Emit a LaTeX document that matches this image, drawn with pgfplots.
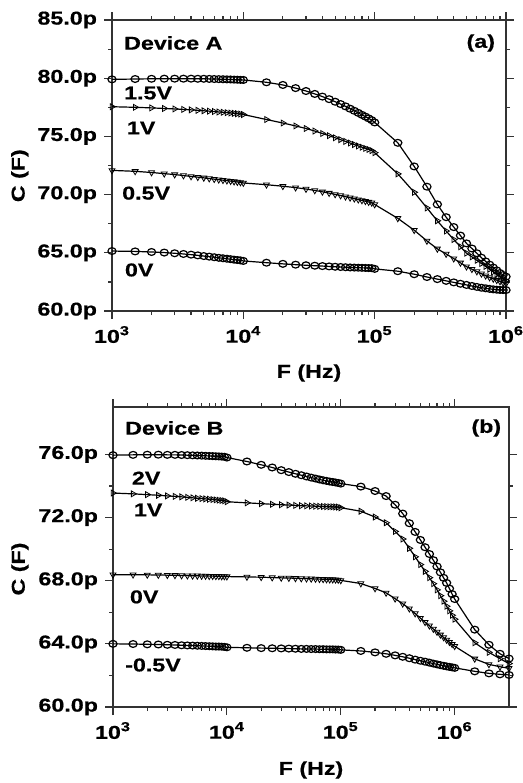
\documentclass[border=0pt]{standalone}
\usepackage{fontspec}
\setmainfont{Liberation Sans}[FakeStretch=1.25, BoldFeatures={FakeBold=0.6}]
\usepackage{pgfplots}
\usepackage{pgfplotstable}
\pgfplotsset{compat=1.18}

\pgfplotstableread{
f a15 a10 a05 a00
1000 79.90 77.55 72.08 65.15
1500 79.93 77.50 72.00 65.12
2000 79.95 77.45 71.90 65.07
2500 79.96 77.40 71.80 65.02
3000 79.96 77.36 71.72 64.96
3500 79.96 77.32 71.64 64.90
4000 79.96 77.28 71.56 64.84
4500 79.95 77.24 71.50 64.78
5000 79.95 77.20 71.44 64.72
5500 79.94 77.17 71.38 64.67
6000 79.93 77.14 71.33 64.62
6500 79.92 77.10 71.28 64.57
7000 79.91 77.07 71.24 64.53
7500 79.90 77.04 71.20 64.49
8000 79.89 77.01 71.16 64.45
8500 79.88 76.98 71.12 64.41
9000 79.87 76.95 71.08 64.38
9500 79.86 76.92 71.05 64.35
10000 79.85 76.88 71.00 64.30
15000 79.65 76.45 70.85 64.15
20000 79.42 76.15 70.72 64.05
25000 79.15 75.90 70.60 63.98
30000 78.90 75.68 70.48 63.93
35000 78.65 75.46 70.36 63.89
40000 78.42 75.25 70.24 63.86
45000 78.20 75.06 70.13 63.83
50000 77.98 74.88 70.02 63.80
55000 77.78 74.72 69.92 63.78
60000 77.58 74.57 69.82 63.76
65000 77.38 74.43 69.73 63.74
70000 77.20 74.30 69.65 63.73
75000 77.02 74.18 69.57 63.72
80000 76.85 74.07 69.50 63.71
85000 76.70 73.97 69.43 63.70
90000 76.55 73.88 69.36 63.69
95000 76.40 73.78 69.30 63.68
100000 76.20 73.60 69.15 63.62
150000 74.45 71.78 67.96 63.42
200000 72.42 70.20 66.94 63.16
250000 70.68 68.85 66.02 62.92
300000 69.16 67.75 65.34 62.74
350000 68.06 66.87 64.90 62.59
400000 67.21 66.14 64.50 62.46
450000 66.48 65.52 64.14 62.34
500000 65.81 64.97 63.81 62.24
550000 65.37 64.65 63.59 62.15
600000 64.96 64.35 63.39 62.07
650000 64.58 64.08 63.20 62.00
700000 64.26 63.83 63.03 61.95
750000 63.98 63.59 62.88 61.90
800000 63.73 63.36 62.76 61.86
850000 63.49 63.15 62.65 61.83
900000 63.26 62.95 62.54 61.81
950000 63.09 62.76 62.43 61.80
1000000 62.95 62.60 62.35 61.80
}\tabA

\pgfplotstableread{
f b20 b10 b00 bm05
1000 75.95 73.55 68.38 64.00
1500 75.97 73.50 68.38 63.99
2000 75.98 73.45 68.37 63.97
2500 75.98 73.41 68.36 63.96
3000 75.97 73.37 68.35 63.94
3500 75.97 73.34 68.34 63.93
4000 75.96 73.31 68.33 63.91
4500 75.95 73.28 68.32 63.90
5000 75.94 73.25 68.31 63.89
5500 75.93 73.22 68.31 63.88
6000 75.92 73.20 68.30 63.87
6500 75.91 73.18 68.30 63.86
7000 75.90 73.16 68.29 63.85
7500 75.89 73.14 68.29 63.84
8000 75.88 73.12 68.28 63.83
8500 75.87 73.10 68.28 63.83
9000 75.86 73.08 68.27 63.82
9500 75.85 73.06 68.27 63.81
10000 75.80 73.00 68.26 63.78
15000 75.55 72.93 68.24 63.75
20000 75.34 72.88 68.22 63.73
25000 75.17 72.84 68.20 63.72
30000 75.00 72.81 68.18 63.71
35000 74.88 72.79 68.17 63.70
40000 74.77 72.77 68.15 63.69
45000 74.68 72.75 68.14 63.68
50000 74.60 72.74 68.13 63.68
55000 74.53 72.73 68.12 63.67
60000 74.47 72.72 68.11 63.67
65000 74.41 72.71 68.10 63.66
70000 74.36 72.70 68.09 63.66
75000 74.32 72.69 68.08 63.65
80000 74.28 72.68 68.07 63.65
85000 74.25 72.68 68.07 63.65
90000 74.22 72.67 68.06 63.64
95000 74.19 72.66 68.05 63.64
100000 74.15 72.62 68.02 63.62
150000 73.96 72.40 67.82 63.55
200000 73.68 72.03 67.51 63.46
250000 73.36 71.67 67.23 63.37
300000 72.81 71.12 66.86 63.27
350000 72.25 70.64 66.54 63.18
400000 71.64 70.05 66.23 63.09
450000 71.09 69.51 65.92 63.00
500000 70.58 69.02 65.63 62.93
550000 70.12 68.59 65.37 62.87
600000 69.69 68.19 65.15 62.81
650000 69.30 67.81 64.94 62.75
700000 68.90 67.42 64.75 62.70
750000 68.53 67.05 64.57 62.65
800000 68.18 66.70 64.41 62.61
850000 67.86 66.38 64.25 62.57
900000 67.50 66.09 64.11 62.54
950000 67.15 65.81 63.98 62.51
1000000 66.84 65.56 63.85 62.48
1500000 64.90 64.07 63.05 62.26
2000000 63.94 63.46 62.70 62.13
2500000 63.37 63.06 62.55 62.07
3000000 63.07 62.75 62.45 62.03
}\tabB

\newcommand{\lblfont}{\fontsize{9.3}{11}\selectfont\bfseries}

\pgfplotsset{
  myax/.style={
    scale only axis,
    axis line style={black!80, line width=0.8pt},
    tick align=outside, major tick length=4pt, minor tick length=2pt,
    every tick/.style={black!80, line width=0.6pt},
    label style={font=\lblfont},
    tick label style={font=\lblfont},
    yticklabel style={font=\lblfont},
    xticklabel style={font=\lblfont},
    minor y tick num=1,
    clip=false,
    ylabel={C (F)}, xlabel={F (Hz)},
  },
  mk/.style={only marks, mark size=1.7pt, mark options={solid, xscale=1.2, draw=black, line width=0.6pt, fill=none}},
  fit/.style={no marks, black, line width=0.6pt},
}

\begin{document}
\begin{tikzpicture}
\useasboundingbox (0,0) rectangle (261.5pt,-391.5pt);

\begin{axis}[xmode=log, myax,
  at={(56pt,-10pt)}, anchor=north west,
  width=197pt, height=145.5pt,
  xmin=1e3, xmax=1e6, ymin=60, ymax=85,
  xtick={1e3,1e4,1e5,1e6},
  xticklabels={10\textsuperscript{3},10\textsuperscript{4},10\textsuperscript{5},10\textsuperscript{6}},
  ytick={60,65,70,75,80,85},
  yticklabels={60.0p,65.0p,70.0p,75.0p,80.0p,85.0p},
  ylabel style={at={(axis description cs:-0.234,0.465)}, anchor=center},
  xlabel style={at={(axis description cs:0.5,-0.213)}, anchor=center},
]
\addplot[mk, mark=o] table[x=f,y=a15]{\tabA};
\addplot[mk, mark=triangle, mark options={rotate=-90}] table[x=f,y=a10]{\tabA};
\addplot[mk, mark=triangle, mark options={rotate=180}] table[x=f,y=a05]{\tabA};
\addplot[mk, mark=o] table[x=f,y=a00]{\tabA};
\addplot[fit] table[x=f,y=a15]{\tabA};
\addplot[fit] table[x=f,y=a10]{\tabA};
\addplot[fit] table[x=f,y=a05]{\tabA};
\addplot[fit] table[x=f,y=a00]{\tabA};
\node[anchor=west, font=\lblfont] at (rel axis cs:0.013,0.921) {Device A};
\node[anchor=east, font=\lblfont] at (rel axis cs:0.99,0.921) {(a)};
\node[anchor=west, font=\lblfont] at (rel axis cs:0.013,0.749) {1.5V};
\node[anchor=west, font=\lblfont] at (rel axis cs:0.02,0.629) {1V};
\node[anchor=west, font=\lblfont] at (rel axis cs:0.008,0.405) {0.5V};
\node[anchor=west, font=\lblfont] at (rel axis cs:0.015,0.141) {0V};
\end{axis}

\begin{axis}[xmode=log, myax,
  at={(56.5pt,-203.5pt)}, anchor=north west,
  width=198pt, height=150pt,
  xmin=1e3, xmax=3e6, ymin=60, ymax=79,
  xtick={1e3,1e4,1e5,1e6},
  xticklabels={10\textsuperscript{3},10\textsuperscript{4},10\textsuperscript{5},10\textsuperscript{6}},
  ytick={60,64,68,72,76},
  yticklabels={60.0p,64.0p,68.0p,72.0p,76.0p},
  ylabel style={at={(axis description cs:-0.235,0.46)}, anchor=center},
  xlabel style={at={(axis description cs:0.5,-0.21)}, anchor=center},
]
\addplot[mk, mark=o] table[x=f,y=b20]{\tabB};
\addplot[mk, mark=triangle, mark options={rotate=-90}] table[x=f,y=b10]{\tabB};
\addplot[mk, mark=triangle, mark options={rotate=180}] table[x=f,y=b00]{\tabB};
\addplot[mk, mark=o] table[x=f,y=bm05]{\tabB};
\addplot[fit] table[x=f,y=b20]{\tabB};
\addplot[fit] table[x=f,y=b10]{\tabB};
\addplot[fit] table[x=f,y=b00]{\tabB};
\addplot[fit] table[x=f,y=bm05]{\tabB};
\node[anchor=west, font=\lblfont] at (rel axis cs:0.013,0.93) {Device B};
\node[anchor=east, font=\lblfont] at (rel axis cs:0.998,0.93) {(b)};
\node[anchor=west, font=\lblfont] at (rel axis cs:0.03,0.763) {2V};
\node[anchor=west, font=\lblfont] at (rel axis cs:0.035,0.657) {1V};
\node[anchor=west, font=\lblfont] at (rel axis cs:0.025,0.367) {0V};
\node[anchor=west, font=\lblfont] at (rel axis cs:0.013,0.14) {-0.5V};
\end{axis}
\end{tikzpicture}
\end{document}
